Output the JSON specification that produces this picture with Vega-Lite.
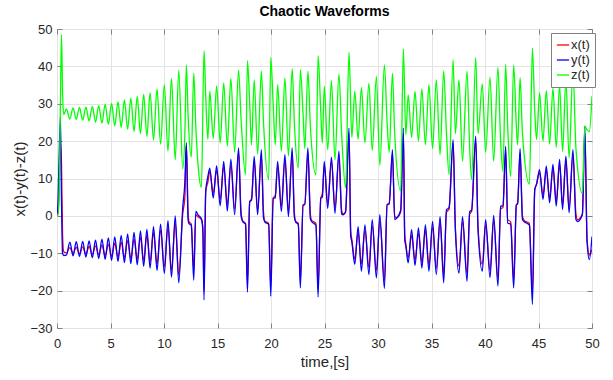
{
  "$schema": "https://vega.github.io/schema/vega-lite/v6.json",
  "width": 535,
  "height": 299,
  "autosize": {"type": "none"},
  "padding": {"left": 57, "top": 29, "right": 21, "bottom": 52},
  "background": "white",
  "title": {"text": "Chaotic Waveforms", "font": "Liberation Sans", "fontSize": 14, "fontWeight": "bold", "color": "#000000", "anchor": "middle", "offset": 4},
  "config": {
    "view": {"stroke": "#808080", "strokeWidth": 1},
    "axis": {
      "labelFont": "Liberation Sans", "labelFontSize": 13, "labelColor": "#262626",
      "titleFont": "Liberation Sans", "titleFontSize": 15, "titleFontWeight": "normal", "titleColor": "#262626",
      "gridColor": "#e3e3e3", "gridWidth": 1, "domain": false,
      "tickColor": "#808080", "tickSize": -5, "tickWidth": 1
    }
  },
  "data": {"values": [
    {"t":0,"x":0,"y":0.5,"z":0.3},
    {"t":0.08,"x":0.5,"y":3,"z":0.3},
    {"t":0.2,"x":7,"y":16,"z":5},
    {"t":0.32,"x":19.5,"y":26.5,"z":30},
    {"t":0.42,"x":14,"y":4,"z":48.5},
    {"t":0.52,"x":-5,"y":-10,"z":33},
    {"t":0.63,"x":-9.6,"y":-10.6,"z":27.1},
    {"t":0.88,"x":-9.9,"y":-10.5,"z":28.6},
    {"t":1.2,"x":-8.5,"y":-7.0,"z":25.9},
    {"t":1.5,"x":-10.0,"y":-10.7,"z":28.9},
    {"t":1.8,"x":-8.4,"y":-6.9,"z":25.8},
    {"t":2.1,"x":-10.1,"y":-10.9,"z":29.0},
    {"t":2.4,"x":-8.3,"y":-6.8,"z":25.6},
    {"t":2.7,"x":-10.2,"y":-11.0,"z":29.1},
    {"t":3.0,"x":-8.2,"y":-6.7,"z":25.4},
    {"t":3.3,"x":-10.3,"y":-11.2,"z":29.3},
    {"t":3.6,"x":-8.0,"y":-6.5,"z":25.1},
    {"t":3.9,"x":-10.4,"y":-11.4,"z":29.5},
    {"t":4.2,"x":-7.8,"y":-6.2,"z":24.8},
    {"t":4.5,"x":-10.6,"y":-11.6,"z":29.8},
    {"t":4.8,"x":-7.6,"y":-5.9,"z":24.5},
    {"t":5.1,"x":-10.8,"y":-11.9,"z":30.1},
    {"t":5.4,"x":-7.3,"y":-5.6,"z":24.1},
    {"t":5.7,"x":-11.0,"y":-12.2,"z":30.5},
    {"t":6.0,"x":-7.0,"y":-5.2,"z":23.7},
    {"t":6.3,"x":-11.2,"y":-12.5,"z":31.0},
    {"t":6.6,"x":-6.6,"y":-4.8,"z":23.2},
    {"t":6.9,"x":-11.4,"y":-12.8,"z":31.5},
    {"t":7.2,"x":-6.2,"y":-4.4,"z":22.6},
    {"t":7.5,"x":-11.6,"y":-13.1,"z":32.0},
    {"t":7.8,"x":-5.7,"y":-4.0,"z":22.0},
    {"t":8.1,"x":-11.9,"y":-13.5,"z":32.5},
    {"t":8.4,"x":-5.1,"y":-3.6,"z":21.3},
    {"t":8.7,"x":-12.3,"y":-14.0,"z":33.0},
    {"t":9.02,"x":-4.5,"y":-2.9,"z":20.3},
    {"t":9.35,"x":-12.9,"y":-14.6,"z":34.0},
    {"t":9.68,"x":-3.8,"y":-2.2,"z":19.2},
    {"t":10.03,"x":-13.6,"y":-15.4,"z":35.1},
    {"t":10.37,"x":-3.0,"y":-1.3,"z":17.3},
    {"t":10.7,"x":-14.5,"y":-16.4,"z":36.8},
    {"t":11.05,"x":-1.9,"y":0,"z":15.0},
    {"t":11.38,"x":-15.8,"y":-17.9,"z":39.0},
    {"t":11.75,"x":0.5,"y":2.2,"z":12.6},
    {"t":11.95,"x":5,"y":9,"z":22},
    {"t":12.09,"x":19,"y":19.5,"z":40.4},
    {"t":12.25,"x":1,"y":-1,"z":27},
    {"t":12.33,"x":-1.5,"y":-2.0},
    {"t":12.55,"x":-2.2,"y":-2.6,"z":15.7},
    {"t":12.78,"x":-14.5,"y":-17.2,"z":38.2},
    {"t":12.97,"x":0.3,"y":1.2,"z":24},
    {"t":13.2,"x":-0.3,"y":0.2,"z":13},
    {"t":13.5,"x":-1.0,"y":-0.8,"z":7.6},
    {"t":13.63,"x":-3,"y":-4},
    {"t":13.74,"x":-20,"y":-22.5,"z":44.2},
    {"t":13.9,"x":6.6,"y":6.6,"z":32},
    {"t":14.1,"x":9,"y":10.5,"z":20.5},
    {"t":14.28,"x":11.9,"y":12.8,"z":33.4},
    {"t":14.6,"x":6.0,"y":4.8,"z":20.7},
    {"t":14.92,"x":12.2,"y":13.4,"z":34.8},
    {"t":15.25,"x":4.4,"y":2.7,"z":19.5},
    {"t":15.58,"x":13.2,"y":14.6,"z":35.6},
    {"t":15.92,"x":3.0,"y":1.3,"z":18.7},
    {"t":16.25,"x":13.8,"y":15.2,"z":36.8},
    {"t":16.6,"x":1.8,"y":0.3,"z":17.0},
    {"t":16.97,"x":17,"y":18.2,"z":39},
    {"t":17.2,"x":1.2,"y":0,"z":26},
    {"t":17.35,"x":-1.3,"y":-1.5},
    {"t":17.62,"x":-2,"y":-2.2,"z":11},
    {"t":17.8,"x":-18,"y":-20.4,"z":41.5},
    {"t":18.01,"x":3.8,"y":3.8,"z":30},
    {"t":18.18,"x":4.5,"y":4.2,"z":19},
    {"t":18.43,"x":14.5,"y":15.9,"z":36.4},
    {"t":18.75,"x":1.5,"y":0.3,"z":16.5},
    {"t":19.1,"x":16.3,"y":17.7,"z":38.7},
    {"t":19.3,"x":1,"y":-0.5,"z":25},
    {"t":19.42,"x":-1.4,"y":-1.6},
    {"t":19.78,"x":-2,"y":-2.3,"z":9.7},
    {"t":19.98,"x":-19,"y":-21.5,"z":42.4},
    {"t":20.2,"x":4.7,"y":4.7,"z":30},
    {"t":20.4,"x":5.5,"y":4.8,"z":19},
    {"t":20.62,"x":13.3,"y":14.6,"z":35.1},
    {"t":20.97,"x":2.6,"y":1.2,"z":17.3},
    {"t":21.3,"x":15,"y":16.4,"z":36.9},
    {"t":21.63,"x":1.2,"y":-0.2,"z":16},
    {"t":21.98,"x":17,"y":18.2,"z":39.4},
    {"t":22.18,"x":1,"y":-0.3,"z":25},
    {"t":22.3,"x":-1.4,"y":-1.6},
    {"t":22.55,"x":-2,"y":-2.3,"z":12.8},
    {"t":22.74,"x":-17.3,"y":-19.3,"z":39.1},
    {"t":23.0,"x":2.9,"y":2.9,"z":27},
    {"t":23.16,"x":3.3,"y":3,"z":18},
    {"t":23.45,"x":16.8,"y":18.2,"z":38.7},
    {"t":23.68,"x":0.5,"y":-0.8,"z":24},
    {"t":23.8,"x":-1.2,"y":-1.5},
    {"t":24.2,"x":-2,"y":-2.5,"z":11},
    {"t":24.4,"x":-19.5,"y":-21.7,"z":42.9},
    {"t":24.65,"x":4.7,"y":4.7,"z":28},
    {"t":24.8,"x":6,"y":5,"z":19.5},
    {"t":24.98,"x":13.5,"y":14.6,"z":34.7},
    {"t":25.3,"x":3.3,"y":2,"z":17.7},
    {"t":25.65,"x":14.5,"y":15.7,"z":36.2},
    {"t":25.98,"x":2,"y":0.7,"z":15},
    {"t":26.35,"x":16,"y":17.3,"z":38},
    {"t":26.6,"x":1.5,"y":0.5,"z":22},
    {"t":26.75,"x":0.5,"y":0.3},
    {"t":26.97,"x":1,"y":1.2,"z":7.5},
    {"t":27.29,"x":22,"y":23.5,"z":43.8},
    {"t":27.45,"x":-4,"y":-5.5},
    {"t":27.55,"x":-6.2,"y":-6.8,"z":21},
    {"t":27.83,"x":-11.5,"y":-13,"z":33.3},
    {"t":28.14,"x":-4.4,"y":-2.9,"z":20.5},
    {"t":28.45,"x":-12.8,"y":-14.8,"z":34.4},
    {"t":28.78,"x":-3.8,"y":-2.4,"z":19.5},
    {"t":29.15,"x":-13.8,"y":-15.7,"z":35.5},
    {"t":29.46,"x":-2.6,"y":-1,"z":17.5},
    {"t":29.85,"x":-14.6,"y":-16.6,"z":37.3},
    {"t":30.17,"x":-1.3,"y":0.3,"z":13.5},
    {"t":30.6,"x":-17.3,"y":-19.4,"z":40.4},
    {"t":30.85,"x":2.9,"y":3,"z":25},
    {"t":31.05,"x":3.5,"y":3.2,"z":17},
    {"t":31.35,"x":16.5,"y":17.7,"z":38.2},
    {"t":31.56,"x":0,"y":-1,"z":22},
    {"t":31.75,"x":-0.5,"y":-0.6},
    {"t":32.12,"x":1,"y":1.5,"z":6.7},
    {"t":32.37,"x":22,"y":23.5,"z":44.7},
    {"t":32.5,"x":-5,"y":-6.5},
    {"t":32.6,"x":-7.5,"y":-8,"z":21.7},
    {"t":32.82,"x":-11.2,"y":-12.6,"z":32.4},
    {"t":33.14,"x":-5.2,"y":-3.7,"z":21},
    {"t":33.46,"x":-11.8,"y":-13.3,"z":33.3},
    {"t":33.78,"x":-4.6,"y":-3.2,"z":20},
    {"t":34.1,"x":-12.4,"y":-14,"z":34},
    {"t":34.43,"x":-3.8,"y":-2.4,"z":19},
    {"t":34.76,"x":-13.2,"y":-14.8,"z":35.1},
    {"t":35.1,"x":-3,"y":-1.5,"z":18},
    {"t":35.45,"x":-14,"y":-15.7,"z":36.4},
    {"t":35.8,"x":-1.6,"y":-0.2,"z":16.4},
    {"t":36.14,"x":-15.8,"y":-17.9,"z":38.8},
    {"t":36.4,"x":1,"y":1.6,"z":22},
    {"t":36.64,"x":1.8,"y":2.2,"z":11},
    {"t":37.02,"x":19.5,"y":20.4,"z":41.8},
    {"t":37.23,"x":-3,"y":-3.7,"z":22},
    {"t":37.57,"x":-13.5,"y":-15.3,"z":36.4},
    {"t":37.9,"x":-1.5,"y":-0.2,"z":14.6},
    {"t":38.32,"x":-15.5,"y":-17.5,"z":38.7},
    {"t":38.57,"x":0.5,"y":1.2,"z":18},
    {"t":38.75,"x":1.2,"y":1.5,"z":9.7},
    {"t":39.13,"x":20.3,"y":21.3,"z":42.4},
    {"t":39.35,"x":-3,"y":-3.7,"z":22},
    {"t":39.75,"x":-13,"y":-14.8,"z":35.3},
    {"t":40.06,"x":-2.4,"y":-1,"z":17},
    {"t":40.47,"x":-14.6,"y":-16.5,"z":37.1},
    {"t":40.81,"x":-1.2,"y":0.1,"z":14.6},
    {"t":41.21,"x":-16.8,"y":-18.8,"z":39.7},
    {"t":41.46,"x":1.8,"y":2.5,"z":20},
    {"t":41.68,"x":2.3,"y":2.8,"z":11.9},
    {"t":41.93,"x":17.6,"y":18.6,"z":40.5},
    {"t":42.12,"x":-1,"y":-1.9,"z":24},
    {"t":42.4,"x":-1.6,"y":-2.2,"z":10.5},
    {"t":42.68,"x":-17.3,"y":-19.3,"z":40.4},
    {"t":42.93,"x":2.9,"y":2.9,"z":24},
    {"t":43.05,"x":3.5,"y":3.2,"z":19},
    {"t":43.28,"x":16.8,"y":18,"z":37},
    {"t":43.5,"x":0,"y":-1,"z":22},
    {"t":43.65,"x":-1.2,"y":-1.5},
    {"t":44.15,"x":-2,"y":-2.5,"z":8.5},
    {"t":44.43,"x":-21,"y":-23.7,"z":44.9},
    {"t":44.65,"x":7,"y":7,"z":28},
    {"t":44.82,"x":8.5,"y":8.5,"z":20.5},
    {"t":45.1,"x":11.5,"y":12.4,"z":32.9},
    {"t":45.42,"x":5.6,"y":4.4,"z":20},
    {"t":45.73,"x":12.2,"y":13.3,"z":33.5},
    {"t":46.04,"x":4.8,"y":3.5,"z":19.2},
    {"t":46.35,"x":12.7,"y":13.8,"z":34.2},
    {"t":46.66,"x":4,"y":2.6,"z":18.3},
    {"t":46.97,"x":13.8,"y":15.1,"z":35},
    {"t":47.25,"x":3,"y":1.7,"z":17.2},
    {"t":47.56,"x":14.7,"y":16,"z":36.5},
    {"t":47.86,"x":2,"y":0.8,"z":15.5},
    {"t":48.22,"x":16.3,"y":17.7,"z":39},
    {"t":48.5,"x":0.5,"y":-1,"z":18},
    {"t":48.65,"x":-1,"y":-1.5},
    {"t":49.1,"x":0.5,"y":0.3,"z":6},
    {"t":49.33,"x":22,"y":24,"z":24},
    {"t":49.54,"x":-6.3,"y":-6.9,"z":23},
    {"t":49.75,"x":-10.5,"y":-11.7,"z":22.5},
    {"t":50,"x":-9,"y":-5.5,"z":32}
  ]},
  "transform": [
    {"fold": ["x", "y", "z"], "as": ["s", "v"]},
    {"filter": "isValid(datum.v)"}
  ],
  "layer": [
    {
      "mark": {"type": "line", "interpolate": "monotone", "strokeWidth": 1.3, "clip": true},
      "encoding": {
        "x": {"field": "t", "type": "quantitative",
              "scale": {"domain": [0, 50], "nice": false, "zero": false},
              "axis": {"values": [0,5,10,15,20,25,30,35,40,45,50], "title": "time,[s]", "labelPadding": 14, "titlePadding": 4, "labelFlush": false}},
        "y": {"field": "v", "type": "quantitative",
              "scale": {"domain": [-30, 50], "nice": false, "zero": false},
              "axis": {"values": [-30,-20,-10,0,10,20,30,40,50], "title": "x(t)-y(t)-z(t)", "labelPadding": 10, "titlePadding": 2}},
        "color": {"field": "s", "type": "nominal",
                  "scale": {"domain": ["x", "y", "z"], "range": ["#ff0000", "#0000ff", "#00ff00"]},
                  "legend": {"title": null, "orient": "none", "legendX": 494, "legendY": 4,
                             "fillColor": "white", "strokeColor": "#808080", "padding": 5,
                             "symbolType": "stroke", "symbolStrokeWidth": 1.3, "symbolSize": 150,
                             "labelFont": "Liberation Sans", "labelFontSize": 13, "labelColor": "#262626",
                             "labelOffset": 1, "rowPadding": 1,
                             "labelExpr": "datum.label + '(t)'"}}
      }
    },
    {
      "mark": {"type": "line", "opacity": 0},
      "encoding": {
        "x": {"field": "t", "type": "quantitative",
              "axis": {"orient": "top", "values": [0,5,10,15,20,25,30,35,40,45,50], "labels": false, "grid": false, "title": null}},
        "y": {"field": "v", "type": "quantitative",
              "axis": {"orient": "right", "values": [-30,-20,-10,0,10,20,30,40,50], "labels": false, "grid": false, "title": null}}
      }
    }
  ],
  "resolve": {"axis": {"x": "independent", "y": "independent"}}
}
